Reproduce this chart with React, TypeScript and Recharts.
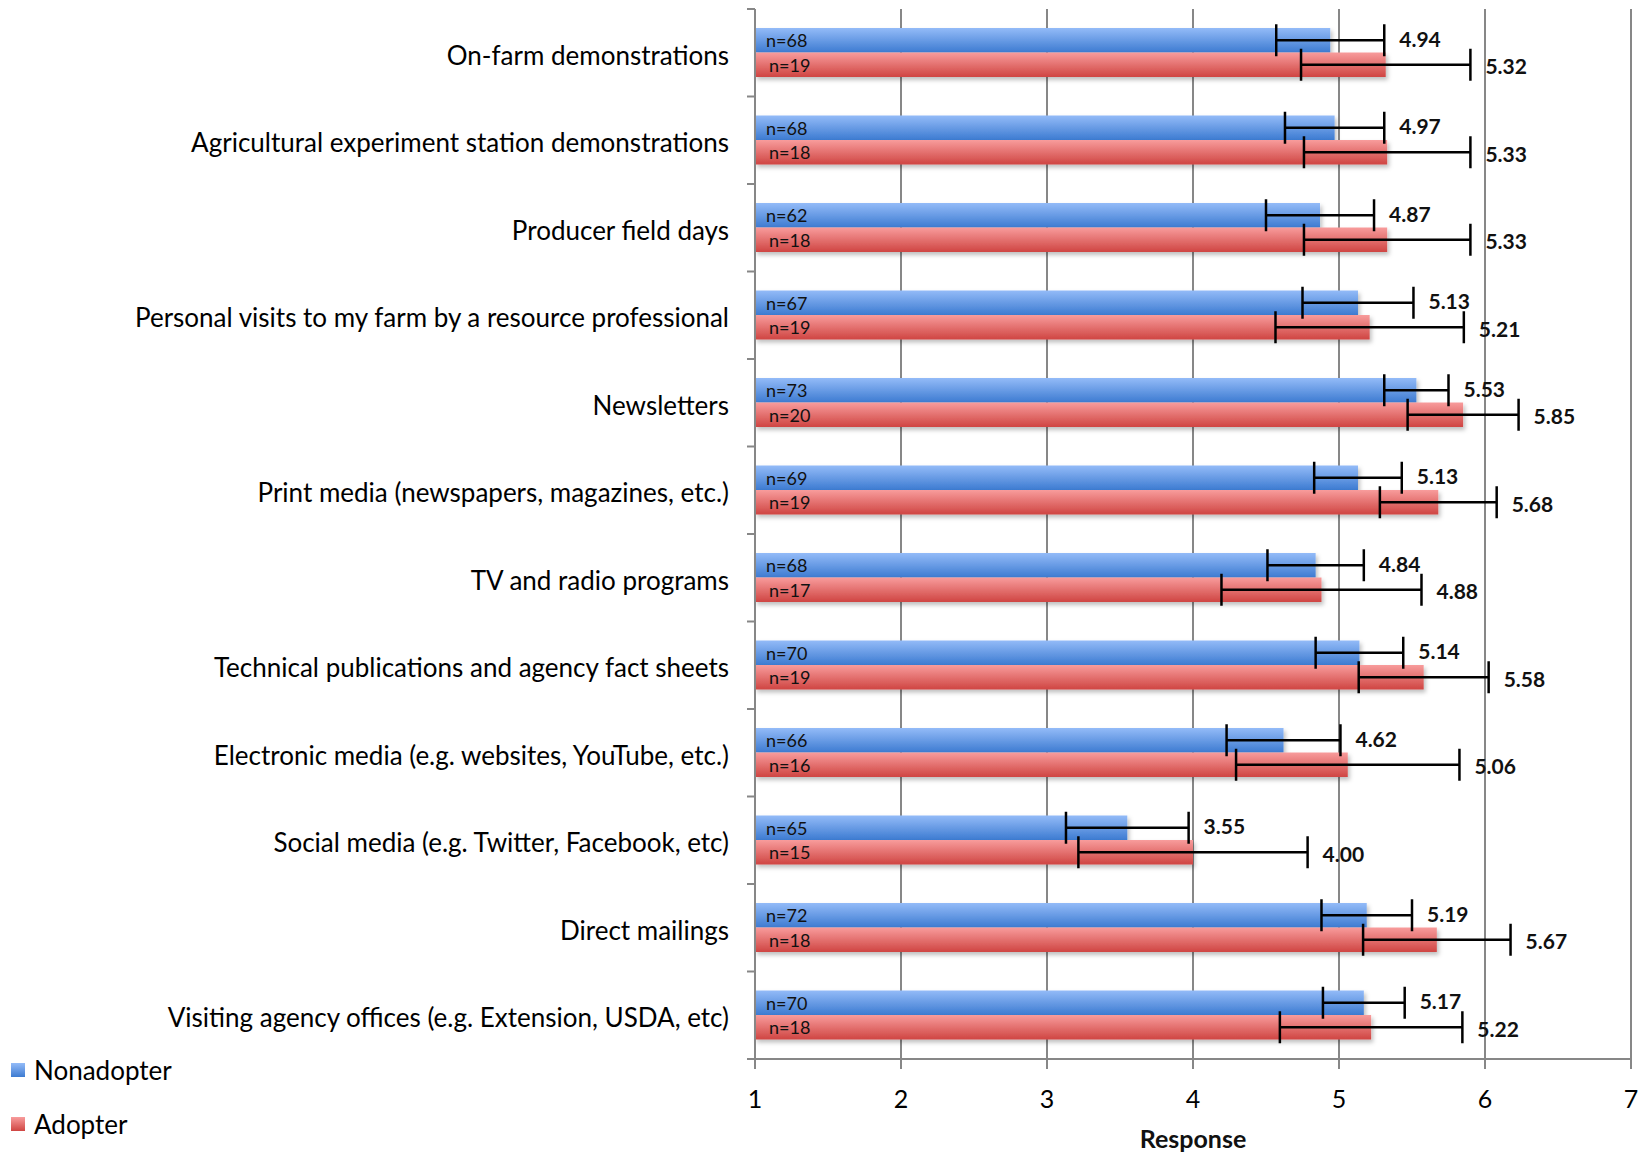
import React from 'react';
import { BarChart, Bar, XAxis, YAxis, CartesianGrid, ErrorBar, LabelList, Legend } from 'recharts';

const categories = [
  'On-farm demonstrations',
  'Agricultural experiment station demonstrations',
  'Producer field days',
  'Personal visits to my farm by a resource professional',
  'Newsletters',
  'Print media (newspapers, magazines, etc.)',
  'TV and radio programs',
  'Technical publications and agency fact sheets',
  'Electronic media (e.g. websites, YouTube, etc.)',
  'Social media (e.g. Twitter, Facebook, etc)',
  'Direct mailings',
  'Visiting agency offices (e.g. Extension, USDA, etc)',
];
const nonadopterMeans = [4.94, 4.97, 4.87, 5.13, 5.53, 5.13, 4.84, 5.14, 4.62, 3.55, 5.19, 5.17];
const nonadopterErrors = [0.37, 0.34, 0.37, 0.38, 0.22, 0.3, 0.33, 0.3, 0.39, 0.42, 0.31, 0.28];
const nonadopterN = [68, 68, 62, 67, 73, 69, 68, 70, 66, 65, 72, 70];
const adopterMeans = [5.32, 5.33, 5.33, 5.21, 5.85, 5.68, 4.88, 5.58, 5.06, 4.0, 5.67, 5.22];
const adopterErrors = [0.58, 0.57, 0.57, 0.645, 0.38, 0.4, 0.685, 0.445, 0.765, 0.785, 0.505, 0.625];
const adopterN = [19, 18, 18, 19, 20, 19, 17, 19, 16, 15, 18, 18];
const xTicks = [1, 2, 3, 4, 5, 6, 7];

const data = categories.map((category, i) => ({
  category,
  non: nonadopterMeans[i],
  nonErr: nonadopterErrors[i],
  nonN: nonadopterN[i],
  adopt: adopterMeans[i],
  adoptErr: adopterErrors[i],
  adoptN: adopterN[i],
}));

const W = 1639;
const H = 1154;
const MARGIN = { top: 9, right: 8, bottom: 0, left: 0 };
const Y_AXIS_W = 755;
const X_AXIS_H = 95;
const BAND = (H - MARGIN.top - MARGIN.bottom - X_AXIS_H) / categories.length;
const FONT = 'Lato, "Open Sans", sans-serif';
const AXIS_GRAY = '#878787';

function YTick(props: any) {
  const { x, y, payload, index } = props;
  return (
    <g>
      <line x1={x - 8} x2={x} y1={y - BAND / 2} y2={y - BAND / 2} stroke={AXIS_GRAY} strokeWidth={2} />
      {index === categories.length - 1 && (
        <line x1={x - 8} x2={x} y1={y + BAND / 2} y2={y + BAND / 2} stroke={AXIS_GRAY} strokeWidth={2} />
      )}
      <text x={x - 26} y={y + 2} textAnchor="end" dominantBaseline="central" fontSize={26} fill="#000" fontFamily={FONT}>
        {payload.value}
      </text>
    </g>
  );
}

function XTick(props: any) {
  const { x, y, payload } = props;
  return (
    <text x={x} y={y + 27} textAnchor="middle" dominantBaseline="central" fontSize={25} fill="#000" fontFamily={FONT}>
      {payload.value}
    </text>
  );
}

const makeValueLabel = (errs: number[], dy: number) => (props: any) => {
  const { x, y, width, height, value, index } = props;
  const k = width / (value - 1);
  const ex = x + width + errs[index] * k;
  return (
    <text x={ex + 15} y={y + height / 2 + dy} dominantBaseline="central" fontWeight="bold" fontSize={21} fill="#111" fontFamily={FONT}>
      {Number(value).toFixed(2)}
    </text>
  );
};

const makeNLabel = (ns: number[], dx: number) => (props: any) => {
  const { x, y, height, index } = props;
  return (
    <text x={x + dx} y={y + height / 2} dominantBaseline="central" fontSize={18} fill="#111" fontFamily={FONT}>
      {`n=${ns[index]}`}
    </text>
  );
};

const makeShape = (id: string) => (props: any) => (
  <rect x={props.x} y={props.y} width={props.width} height={props.height} fill={`url(#${id})`} filter="url(#barShadow)" />
);

function LegendContent() {
  const item = (label: string, top: number, grad: string) => (
    <div style={{ position: 'absolute', left: 0, top, height: 30, display: 'flex', alignItems: 'center', whiteSpace: 'nowrap' }}>
      <div style={{ width: 14, height: 14, marginLeft: 11, background: grad }} />
      <span style={{ marginLeft: 9, fontSize: 26, fontFamily: FONT, color: '#000', lineHeight: '30px' }}>{label}</span>
    </div>
  );
  return (
    <div style={{ position: 'relative', width: 300, height: 110 }}>
      {item('Nonadopter', 11, 'linear-gradient(#93bbf8, #3d7bd1)')}
      {item('Adopter', 65, 'linear-gradient(#f89c9c, #cf4542)')}
    </div>
  );
}

export default function App() {
  return (
    <div style={{ width: W, height: H, position: 'relative' }}>
      <style>{'body{margin:0}'}</style>
      <BarChart
        width={W}
        height={H}
        data={data}
        layout="vertical"
        margin={MARGIN}
        barSize={24.5}
        barGap={0}
      >
        <defs>
          <linearGradient id="gradBlue" x1="0" y1="0" x2="0" y2="1">
            <stop offset="0%" stopColor="#93bbf8" />
            <stop offset="100%" stopColor="#3d7bd1" />
          </linearGradient>
          <linearGradient id="gradRed" x1="0" y1="0" x2="0" y2="1">
            <stop offset="0%" stopColor="#f89c9c" />
            <stop offset="100%" stopColor="#cf4542" />
          </linearGradient>
          <filter id="barShadow" x="-5%" y="-30%" width="115%" height="180%">
            <feDropShadow dx="2" dy="3" stdDeviation="2" floodColor="#000" floodOpacity="0.25" />
          </filter>
        </defs>
        <CartesianGrid horizontal={false} vertical stroke={AXIS_GRAY} strokeWidth={2} />
        <XAxis
          type="number"
          domain={[1, 7]}
          ticks={xTicks}
          interval={0}
          height={X_AXIS_H}
          axisLine={{ stroke: AXIS_GRAY, strokeWidth: 2 }}
          tickLine={{ stroke: AXIS_GRAY, strokeWidth: 2 }}
          tickSize={10}
          tickMargin={2}
          tick={<XTick />}
          label={(p: any) => {
            const vb = p.viewBox;
            return (
              <text x={vb.x + vb.width / 2} y={vb.y + 79} textAnchor="middle" dominantBaseline="central" fontWeight="bold" fontSize={25} fill="#111" fontFamily={FONT}>
                Response
              </text>
            );
          }}
        />
        <YAxis
          type="category"
          dataKey="category"
          width={Y_AXIS_W}
          interval={0}
          axisLine={{ stroke: AXIS_GRAY, strokeWidth: 2 }}
          tickLine={false}
          tickSize={0}
          tickMargin={0}
          tick={<YTick />}
        />
        <Legend
          layout="vertical"
          verticalAlign="middle"
          align="center"
          wrapperStyle={{ left: 0, top: 1044, bottom: 'auto', right: 'auto', width: 300, height: 110 }}
          content={<LegendContent />}
        />
        <Bar dataKey="non" name="Nonadopter" isAnimationActive={false} shape={makeShape('gradBlue')}>
          <ErrorBar dataKey="nonErr" direction="x" width={16} stroke="#000" strokeWidth={2.5} isAnimationActive={false} />
          <LabelList dataKey="non" content={makeNLabel(nonadopterN, 11)} />
          <LabelList dataKey="non" content={makeValueLabel(nonadopterErrors, -2)} />
        </Bar>
        <Bar dataKey="adopt" name="Adopter" isAnimationActive={false} shape={makeShape('gradRed')}>
          <ErrorBar dataKey="adoptErr" direction="x" width={16} stroke="#000" strokeWidth={2.5} isAnimationActive={false} />
          <LabelList dataKey="adopt" content={makeNLabel(adopterN, 14)} />
          <LabelList dataKey="adopt" content={makeValueLabel(adopterErrors, 1)} />
        </Bar>
      </BarChart>
    </div>
  );
}
